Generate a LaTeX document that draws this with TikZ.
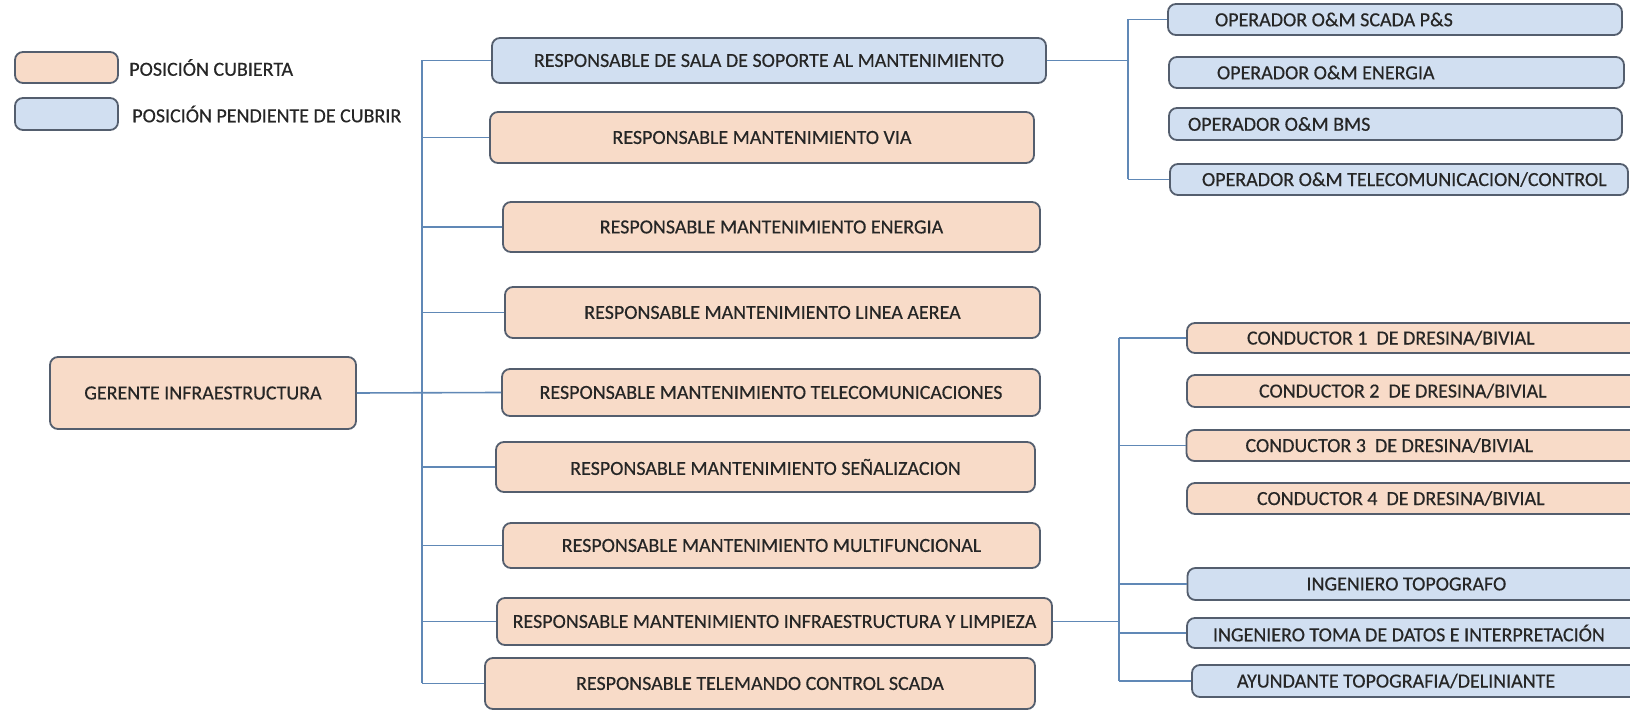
\documentclass[tikz,border=0pt]{standalone}
\usepackage{fontspec}
\setmainfont{Carlito}[FakeBold=0.4]
\usepackage{tikz}
\usetikzlibrary{positioning}
\definecolor{naranja}{RGB}{248,219,200}
\definecolor{azul}{RGB}{209,223,241}
\definecolor{borde}{RGB}{84,94,110}
\definecolor{linea}{RGB}{96,136,182}
\definecolor{texto}{RGB}{38,38,38}

\begin{document}
\begin{tikzpicture}[x=0.5pt,y=-0.5pt]
% Estilos
\tikzstyle{caja}=[draw=borde,line width=0.9pt,rounded corners=4pt,inner sep=0pt,text=texto,font=\fontsize{10}{12}\selectfont]
\tikzstyle{cubierta}=[caja,fill=naranja]
\tikzstyle{pendiente}=[caja,fill=azul]
\tikzstyle{etiqueta}=[inner sep=0pt,anchor=west,text=texto,font=\fontsize{10}{12}\selectfont]
\tikzstyle{conector}=[draw=linea,line width=0.8pt]
% Texto con sangria : ancho, sangria, texto
\def\Texto#1#2#3{\makebox[#1][l]{\hspace*{#2}#3}}
% Marco
\useasboundingbox (0,0) rectangle (1630,710);
\fill[white] (0,0) rectangle (1630,710);
% Leyenda
\node[cubierta,minimum width=51.5pt,minimum height=15.5pt] (LC) at (66.5,67.5) {};
\node[etiqueta,right=5pt of LC] (LCt) {POSICIÓN CUBIERTA};
\node[pendiente,minimum width=51.5pt,minimum height=16pt] (LP) at (66.5,114) {};
\node[etiqueta,right=6.5pt of LP] (LPt) {POSICIÓN PENDIENTE DE CUBRIR};
% Gerente
\node[cubierta,minimum width=153pt,minimum height=36pt] (G) at (203,393) {GERENTE INFRAESTRUCTURA};
% Responsables
\node[pendiente,minimum width=277pt,minimum height=22.5pt] (Ga) at (769,60.5) {RESPONSABLE DE SALA DE SOPORTE AL MANTENIMIENTO};
\node[cubierta,minimum width=272pt,minimum height=25.5pt] (Gb) at (762,137.5) {RESPONSABLE MANTENIMIENTO VIA};
\node[cubierta,minimum width=268.5pt,minimum height=25pt] (Gc) at (771.5,227) {RESPONSABLE MANTENIMIENTO ENERGIA};
\node[cubierta,minimum width=267.5pt,minimum height=25.5pt] (Gd) at (772.5,312.5) {RESPONSABLE MANTENIMIENTO LINEA AEREA};
\node[cubierta,minimum width=269pt,minimum height=23.5pt] (Ge) at (771,392.5) {RESPONSABLE MANTENIMIENTO TELECOMUNICACIONES};
\node[cubierta,minimum width=269.5pt,minimum height=25pt] (Gf) at (765.5,467) {RESPONSABLE MANTENIMIENTO SEÑALIZACION};
\node[cubierta,minimum width=268.5pt,minimum height=22.5pt] (Gg) at (771.5,545.5) {RESPONSABLE MANTENIMIENTO MULTIFUNCIONAL};
\node[cubierta,minimum width=277.5pt,minimum height=23.5pt] (Gh) at (774.5,621.5) {RESPONSABLE MANTENIMIENTO INFRAESTRUCTURA Y LIMPIEZA};
\node[cubierta,minimum width=275pt,minimum height=25.5pt] (Gi) at (760,683.5) {RESPONSABLE TELEMANDO CONTROL SCADA};
% Operadores (sala de soporte)
\node[pendiente,minimum height=15.5pt] (Gaa) at (1395,19.5) {\Texto{227pt}{23.5pt}{OPERADOR O\&M SCADA P\&S}};
\node[pendiente,minimum height=15.5pt] (Gab) at (1396.5,72.5) {\Texto{227.5pt}{24pt}{OPERADOR O\&M ENERGIA}};
\node[pendiente,minimum height=16pt] (Gac) at (1395.5,124) {\Texto{226.5pt}{9.5pt}{OPERADOR O\&M BMS}};
\node[pendiente,minimum height=15.5pt] (Gad) at (1399,179.5) {\Texto{229pt}{16pt}{OPERADOR O\&M TELECOMUNICACION/CONTROL}};
% Conductores e ingenieros (infraestructura y limpieza)
\node[cubierta,minimum height=15pt] (Gha) at (1413.5,338) {\Texto{226.5pt}{30pt}{CONDUCTOR 1\ \ DE DRESINA/BIVIAL}};
\node[cubierta,minimum height=16pt] (Ghb) at (1413.5,391) {\Texto{226.5pt}{36pt}{CONDUCTOR 2\ \ DE DRESINA/BIVIAL}};
\node[cubierta,minimum height=15.5pt] (Ghc) at (1413,445.5) {\Texto{226.5pt}{29.5pt}{CONDUCTOR 3\ \ DE DRESINA/BIVIAL}};
\node[cubierta,minimum height=15.5pt] (Ghd) at (1413.5,498.5) {\Texto{226.5pt}{35pt}{CONDUCTOR 4\ \ DE DRESINA/BIVIAL}};
\node[pendiente,minimum height=16pt] (Ghe) at (1414,584) {\Texto{226.5pt}{59.5pt}{INGENIERO TOPOGRAFO}};
\node[pendiente,minimum height=15pt] (Ghf) at (1413.5,633) {\Texto{226.5pt}{13pt}{INGENIERO TOMA DE DATOS E INTERPRETACIÓN}};
\node[pendiente,minimum height=16pt] (Ghg) at (1416,681) {\Texto{224pt}{22.5pt}{AYUNDANTE TOPOGRAFIA/DELINIANTE}};
% Troncos
\coordinate (T) at (422,0);
\coordinate (U) at (1128,0);
\coordinate (V) at (1119,0);
% Conectores
\draw[conector] (Ga.west -| T) -- (Gi.west -| T);
\draw[conector] (G.east) -- (Ge.west);
\draw[conector] (Ga.west -| T) -- (Ga.west);
\draw[conector] (Gb.west -| T) -- (Gb.west);
\draw[conector] (Gc.west -| T) -- (Gc.west);
\draw[conector] (Gd.west -| T) -- (Gd.west);
\draw[conector] (Gf.west -| T) -- (Gf.west);
\draw[conector] (Gg.west -| T) -- (Gg.west);
\draw[conector] (Gh.west -| T) -- (Gh.west);
\draw[conector] (Gi.west -| T) -- (Gi.west);
\draw[conector] (Ga.east) -- (Ga.east -| U);
\draw[conector] (Gaa.west -| U) -- (Gad.west -| U);
\draw[conector] (Gaa.west -| U) -- (Gaa.west);
\draw[conector] (Gad.west -| U) -- (Gad.west);
\draw[conector] (Gh.east) -- (Gh.east -| V);
\draw[conector] (Gha.west -| V) -- (Ghg.west -| V);
\draw[conector] (Gha.west -| V) -- (Gha.west);
\draw[conector] (Ghc.west -| V) -- (Ghc.west);
\draw[conector] (Ghe.west -| V) -- (Ghe.west);
\draw[conector] (Ghf.west -| V) -- (Ghf.west);
\draw[conector] (Ghg.west -| V) -- (Ghg.west);
\end{tikzpicture}
\end{document}
